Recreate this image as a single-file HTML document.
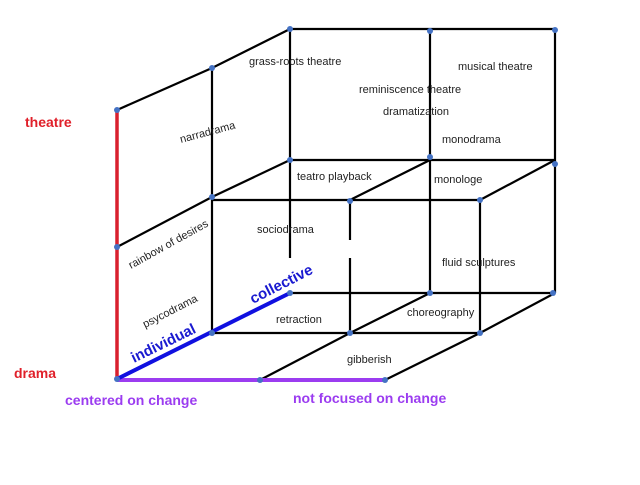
<!DOCTYPE html>
<html><head><meta charset="utf-8"><style>
body{margin:0;background:#fff;}
svg text{font-family:"Liberation Sans",Arial,sans-serif;}
</style></head><body>
<svg width="640" height="480" viewBox="0 0 640 480" xmlns="http://www.w3.org/2000/svg">
<g stroke="#000" stroke-width="2.2" fill="none">
<polyline points="117,110 212,68 290,29 555,29"/>
<line x1="212" y1="68" x2="212" y2="333"/>
<line x1="290" y1="29" x2="290" y2="258"/>
<line x1="430" y1="29" x2="430" y2="293"/>
<line x1="555" y1="29" x2="555" y2="293"/>
<line x1="290" y1="160" x2="555" y2="160"/>
<polyline points="290,160 212,197 117,247"/>
<line x1="430" y1="160" x2="350" y2="200"/>
<line x1="555" y1="160" x2="480" y2="200"/>
<line x1="212" y1="200" x2="480" y2="200"/>
<line x1="350" y1="200" x2="350" y2="240"/>
<line x1="350" y1="258" x2="350" y2="333"/>
<line x1="480" y1="200" x2="480" y2="333"/>
<line x1="290" y1="293" x2="555" y2="293"/>
<line x1="212" y1="333" x2="480" y2="333"/>
<polyline points="430,293 350,333 260,380"/>
<polyline points="555,293 480,333 385,380"/>
</g>
<line x1="117" y1="110" x2="117" y2="379" stroke="#d9202e" stroke-width="3.5"/>
<line x1="117" y1="380" x2="385" y2="380" stroke="#9b3cf0" stroke-width="4"/>
<line x1="119" y1="378" x2="290" y2="293" stroke="#1010e0" stroke-width="4"/>
<g fill="#4472c4">
<circle cx="117" cy="110" r="3"/><circle cx="212" cy="68" r="3"/><circle cx="290" cy="29" r="3"/>
<circle cx="430" cy="31" r="3"/><circle cx="555" cy="30" r="3"/>
<circle cx="290" cy="160" r="3"/><circle cx="430" cy="157" r="3"/><circle cx="555" cy="164" r="3"/>
<circle cx="212" cy="197" r="3"/><circle cx="117" cy="247" r="3"/>
<circle cx="350" cy="201" r="3"/><circle cx="480" cy="200" r="3"/>
<circle cx="290" cy="293" r="3"/><circle cx="430" cy="293" r="3"/><circle cx="553" cy="293" r="3"/>
<circle cx="212" cy="333" r="3"/><circle cx="350" cy="333" r="3"/><circle cx="480" cy="333" r="3"/>
<circle cx="117" cy="379" r="3"/><circle cx="260" cy="380" r="3"/><circle cx="385" cy="380" r="3"/>
</g>
<g font-size="11" fill="#222">
<text x="249" y="65">grass-roots theatre</text>
<text x="458" y="70">musical theatre</text>
<text x="359" y="93">reminiscence theatre</text>
<text x="383" y="115">dramatization</text>
<text x="442" y="143">monodrama</text>
<text x="297" y="180">teatro playback</text>
<text x="434" y="183">monologe</text>
<text x="257" y="233">sociodrama</text>
<text x="442" y="266">fluid sculptures</text>
<text x="407" y="316">choreography</text>
<text x="276" y="323">retraction</text>
<text x="347" y="363">gibberish</text>
<text x="0" y="0" transform="translate(181,143) rotate(-15)">narradrama</text>
<text x="0" y="0" transform="translate(131,269) rotate(-29)">rainbow of desires</text>
<text x="0" y="0" transform="translate(145,328) rotate(-27)">psycodrama</text>
</g>
<g font-weight="bold" font-size="14">
<text x="25" y="127" fill="#e0202a">theatre</text>
<text x="14" y="378" fill="#e0202a">drama</text>
<text x="65" y="405" fill="#9b3cf0">centered on change</text>
<text x="293" y="403" fill="#9b3cf0">not focused on change</text>
<text x="0" y="0" fill="#1a1ad0" font-size="15" transform="translate(134,363) rotate(-26)">individual</text>
<text x="0" y="0" fill="#1a1ad0" font-size="15" transform="translate(253,304) rotate(-27)">collective</text>
</g>
</svg>
</body></html>
